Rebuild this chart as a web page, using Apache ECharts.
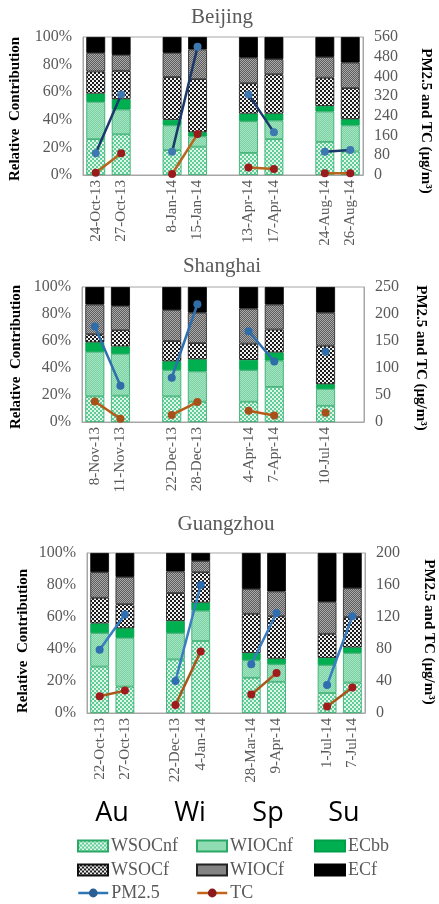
<!DOCTYPE html>
<html>
<head>
<meta charset="utf-8">
<script src="https://cdn.jsdelivr.net/npm/echarts@6/dist/echarts.min.js"></script>
<style>html,body{margin:0;padding:0;background:#fff;}#c{width:439px;height:904px;}</style>
</head>
<body>
<div id="c"></div>
<script>
// ---------------- data ----------------
const cities = ['Beijing', 'Shanghai', 'Guangzhou'];
const seasons = ['Au', 'Wi', 'Sp', 'Su'];
const components = ['WSOCnf', 'WIOCnf', 'ECbb', 'WSOCf', 'WIOCf', 'ECf'];

const bjDates = ['24-Oct-13', '27-Oct-13', '8-Jan-14', '15-Jan-14', '13-Apr-14', '17-Apr-14', '24-Aug-14', '26-Aug-14'];
const bjWSOCnf = [26, 29.5, 18, 20.5, 16, 26, 24, 17];
const bjWIOCnf = [27, 18, 18, 7.5, 23, 13.5, 22, 19];
const bjECbb = [6, 7.5, 4, 3, 5.5, 5, 4, 4.5];
const bjWSOCf = [16, 20.5, 31, 38.5, 22, 28.5, 20.5, 22.5];
const bjWIOCf = [13.5, 11.5, 17.5, 21.5, 18.5, 11, 15, 18.5];
const bjECf = [11.5, 13, 11.5, 9, 15, 16, 14.5, 18.5];
const bjPM = [88, 327, 94, 520, 327, 173, 94, 101];
const bjTC = [9, 88, 4, 166, 30, 24, 7, 7];
const bjRightTicks = {max: 560, interval: 80};

const shDates = ['8-Nov-13', '11-Nov-13', '22-Dec-13', '28-Dec-13', '4-Apr-14', '7-Apr-14', '10-Jul-14'];
const shWSOCnf = [19, 19.5, 19, 15, 15, 26, 12];
const shWIOCnf = [33, 31, 19.5, 22.5, 23.5, 19.5, 12.5];
const shECbb = [7, 5.5, 6.5, 9, 7.5, 6, 3.5];
const shWSOCf = [6, 12, 15, 12, 12, 17, 28.5];
const shWIOCf = [22, 18, 23, 22.5, 26, 18.5, 24.5];
const shECf = [13, 14, 17, 19, 16, 13, 19];
const shPM = [177, 67, 82, 218, 168, 112, 130];
const shTC = [38, 6, 13, 37, 21, 12, 17];
const shRightTicks = {max: 250, interval: 50};

const gzDates = ['22-Oct-13', '27-Oct-13', '22-Dec-13', '4-Jan-14', '28-Mar-14', '9-Apr-14', '1-Jul-14', '7-Jul-14'];
const gzWSOCnf = [29, 16.5, 33.5, 45, 22, 19.5, 12.5, 19];
const gzWIOCnf = [21, 30.5, 16.5, 19, 11, 11, 17.5, 18.5];
const gzECbb = [6, 6, 7.5, 5, 4.5, 3.5, 4.5, 3.5];
const gzWSOCf = [16, 15, 17.5, 19, 24.5, 26.5, 15, 19];
const gzWIOCf = [16, 17, 13.5, 7, 15.5, 15.5, 20, 18];
const gzECf = [12, 15, 11.5, 5, 22.5, 24, 30.5, 22];
const gzPM = [79, 123, 40, 160, 61, 125, 35, 121];
const gzTC = [21, 28, 10, 77, 23, 50, 8, 32];
const gzRightTicks = {max: 200, interval: 40};

const legendOrder = [['WSOCnf', 'WIOCnf', 'ECbb'], ['WSOCf', 'WIOCf', 'ECf'], ['PM2.5', 'TC']];

// ---------------- build ----------------
const panels = [
  {dates: bjDates, comp: [bjWSOCnf, bjWIOCnf, bjECbb, bjWSOCf, bjWIOCf, bjECf], pm: bjPM, tc: bjTC, rt: bjRightTicks},
  {dates: shDates, comp: [shWSOCnf, shWIOCnf, shECbb, shWSOCf, shWIOCf, shECf], pm: shPM, tc: shTC, rt: shRightTicks},
  {dates: gzDates, comp: [gzWSOCnf, gzWIOCnf, gzECbb, gzWSOCf, gzWIOCf, gzECf], pm: gzPM, tc: gzTC, rt: gzRightTicks}
];

const layout = [
  {grid: {left: 83, top: 37, width: 280, height: 138}, title: [222, 7], lt: [15, 109], rt: [426, 121],
   pmLine: '#1b3a6b', pmDot: '#3d78b0', tcLine: '#b8651e', tcDot: '#9a1b1b'},
  {grid: {left: 82, top: 287, width: 282, height: 135}, title: [222, 256], lt: [16, 357], rt: [421, 358],
   pmLine: '#2e6fb0', pmDot: '#2e6da8', tcLine: '#b85a18', tcDot: '#a8501a'},
  {grid: {left: 87, top: 553, width: 278, height: 160}, title: [226, 514], lt: [23, 641], rt: [429, 632],
   pmLine: '#3a7dc0', pmDot: '#2f6eb0', tcLine: '#a8571c', tcDot: '#a01c1c'}
];

const SLOTS = 11;
function slot(i) { return i + Math.floor(i / 2); }
function spread(arr) { const o = new Array(SLOTS).fill('-'); arr.forEach((v, i) => { o[slot(i)] = v; }); return o; }
function cats(dates) { const o = []; for (let k = 0; k < SLOTS; k++) o.push(' '.repeat(k + 1)); dates.forEach((d, i) => { o[slot(i)] = d; }); return o; }

function pattern(size, draw) {
  const c = document.createElement('canvas');
  c.width = size; c.height = size;
  const g = c.getContext('2d');
  draw(g);
  return {image: c, repeat: 'repeat'};
}
function checker(size, a, b) {
  return pattern(size * 2, g => {
    g.fillStyle = a; g.fillRect(0, 0, size * 2, size * 2);
    g.fillStyle = b; g.fillRect(0, 0, size, size); g.fillRect(size, size, size, size);
  });
}
const fills = [
  checker(2, '#5fcc96', '#dff5ea'),   // WSOCnf
  checker(1, '#79d3a3', '#a6e3c2'),   // WIOCnf
  '#00b050',                          // ECbb
  checker(2, '#1c1c1c', '#f2f2f2'),   // WSOCf
  checker(1, '#5e5e5e', '#a9a9a9'),   // WIOCf
  '#000000'                           // ECf
];
const borders = ['#2aa865', '#2aa865', '#00a04a', '#111111', '#222222', '#000000'];

const serif = '"Liberation Serif", "Times New Roman", serif';
const grey = '#595959';

const grid = [], xAxis = [], yAxis = [], series = [], title = [], graphic = [];
panels.forEach((p, gi) => {
  const L = layout[gi];
  grid.push(Object.assign({show: true, borderColor: '#a6a6a6', borderWidth: 1, backgroundColor: '#fff'}, L.grid));
  xAxis.push({
    type: 'category', gridIndex: gi, data: cats(p.dates),
    axisTick: {show: false}, axisLine: {lineStyle: {color: '#a6a6a6'}},
    axisLabel: {rotate: 90, interval: 0, fontFamily: serif, fontSize: 15, color: grey, margin: 5}
  });
  yAxis.push({
    type: 'value', gridIndex: gi, min: 0, max: 100, interval: 20,
    splitLine: {show: false}, axisLine: {show: true, lineStyle: {color: '#a6a6a6'}}, axisTick: {show: false},
    axisLabel: {formatter: '{value}%', fontFamily: serif, fontSize: 16, color: grey, margin: 11}
  });
  yAxis.push({
    type: 'value', gridIndex: gi, position: 'right', min: 0, max: p.rt.max, interval: p.rt.interval,
    splitLine: {show: false}, axisLine: {show: true, lineStyle: {color: '#a6a6a6'}}, axisTick: {show: false},
    axisLabel: {fontFamily: serif, fontSize: 16, color: grey, margin: 11}
  });
  components.forEach((name, ci) => {
    series.push({
      name, type: 'bar', xAxisIndex: gi, yAxisIndex: gi * 2, stack: 'st' + gi, barWidth: '74%',
      data: spread(p.comp[ci]),
      itemStyle: {color: fills[ci], borderColor: borders[ci], borderWidth: 0.8},
      emphasis: {disabled: true}, z: 2
    });
  });
  series.push({
    name: 'PM2.5', type: 'line', xAxisIndex: gi, yAxisIndex: gi * 2 + 1, data: spread(p.pm),
    connectNulls: false, symbol: 'circle', symbolSize: 8, showSymbol: true,
    lineStyle: {color: L.pmLine, width: 2.5}, itemStyle: {color: L.pmDot}, z: 5
  });
  series.push({
    name: 'TC', type: 'line', xAxisIndex: gi, yAxisIndex: gi * 2 + 1, data: spread(p.tc),
    connectNulls: false, symbol: 'circle', symbolSize: 8, showSymbol: true,
    lineStyle: {color: L.tcLine, width: 2.5}, itemStyle: {color: L.tcDot}, z: 5
  });
  title.push({
    text: cities[gi], left: L.title[0], top: L.title[1], textAlign: 'center', padding: 0,
    textStyle: {fontFamily: serif, fontSize: 21, fontWeight: 'normal', color: grey}
  });
  graphic.push({
    type: 'text', x: L.lt[0], y: L.lt[1], rotation: Math.PI / 2,
    style: {text: 'Relative  Contribution', fontFamily: serif, fontSize: 15, fontWeight: 'bold', fill: '#000',
            align: 'center', verticalAlign: 'middle'}
  });
  graphic.push({
    type: 'text', x: L.rt[0], y: L.rt[1], rotation: -Math.PI / 2,
    style: {text: 'PM2.5 and TC (\u03bcg/m\u00b3)', fontFamily: serif, fontSize: 15, fontWeight: 'bold', fill: '#000',
            align: 'center', verticalAlign: 'middle'}
  });
});

const seasonX = [112, 190, 268, 344];
seasons.forEach((s, i) => {
  graphic.push({
    type: 'text', x: seasonX[i], y: 813,
    style: {text: s, fontFamily: '"Open Sans", "Liberation Sans", sans-serif', fontSize: 27, fill: '#000',
            align: 'center', verticalAlign: 'middle'}
  });
});

// one legend per item, placed on a 3-column grid
const legColX = [77, 196, 314];
const legRowY = [837, 861, 884];
const legendLook = {
  'PM2.5': {lineStyle: {color: '#2e75b6', width: 2.5}, itemStyle: {color: '#2a5f94'}},
  'TC': {lineStyle: {color: '#c0651a', width: 2.5}, itemStyle: {color: '#8b1a1a'}}
};
const legend = [];
legendOrder.forEach((row, r) => {
  row.forEach((name, c) => {
    const item = Object.assign({name}, legendLook[name] || {icon: 'rect'});
    legend.push({
      data: [item], left: legColX[c], top: legRowY[r], padding: 0,
      itemWidth: 30, itemHeight: 11, selectedMode: false,
      textStyle: {fontFamily: serif, fontSize: 18, color: grey, padding: [0, 0, 0, -2]}
    });
  });
});

const chart = echarts.init(document.getElementById('c'), null, {renderer: 'canvas'});
chart.setOption({
  animation: false, backgroundColor: '#fff',
  title, grid, xAxis, yAxis, series, legend, graphic
});
</script>
</body>
</html>
